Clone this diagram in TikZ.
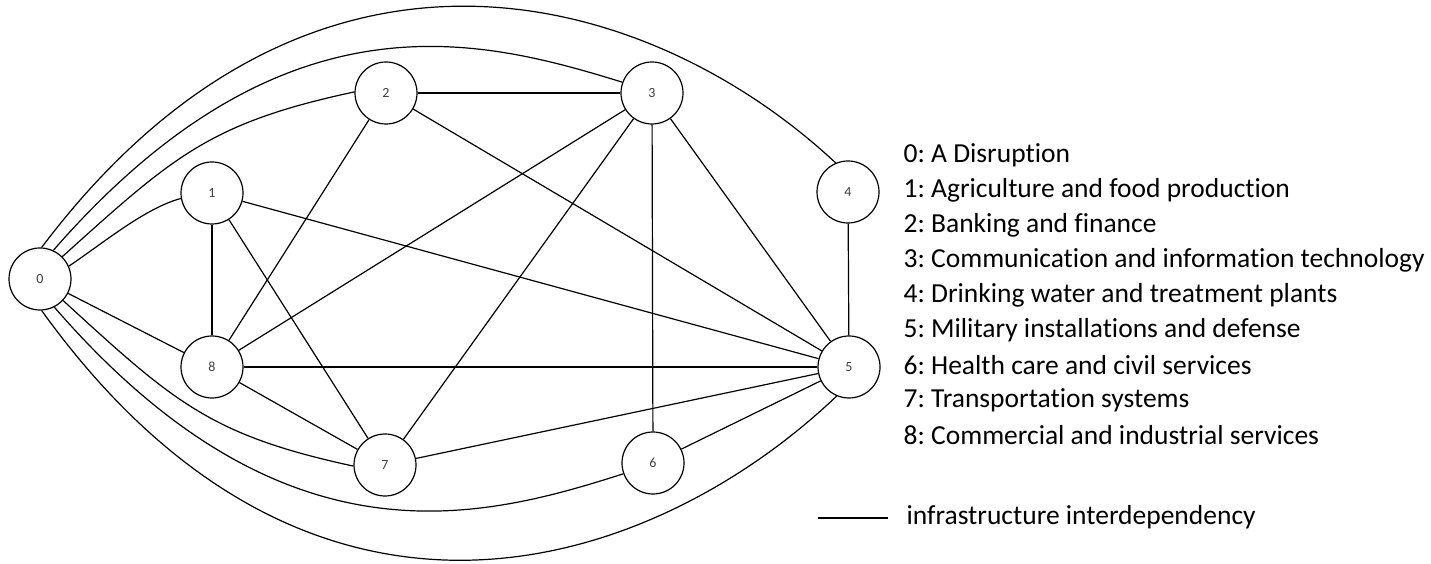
\documentclass[tikz,border=0pt]{standalone}
\usepackage{fontspec}
\setmainfont{Carlito}[Ligatures=NoCommon]
\frenchspacing

\begin{document}
\begin{tikzpicture}
        [x=1pt,y=1pt,line width=1.2pt,every node/.style={draw,shape=circle,fill=white,inner sep=0,minimum size=62pt,text=black!75,font=\fontsize{14}{16}\selectfont},
        key/.style={draw=none,fill=none,shape=rectangle,minimum size=0pt,inner sep=0,anchor=west,text=black,font=\fontsize{27.5}{32}\selectfont}]

        \useasboundingbox (0,0) rectangle (1431,564);

        \node (v0) at (40, 285) {0};
        \node (v1) at (212, 371) {1};
        \node (v2) at (386, 471) {2};
        \node (v3) at (652, 471) {3};
        \node (v4) at (848, 372) {4};
        \node (v5) at (849, 197) {5};
        \node (v6) at (653, 101) {6};
        \node (v7) at (385, 99) {7};
        \node (v8) at (212, 197) {8};

        % links from the disruption
        \draw (v0.24) .. controls (102, 320) and (145, 356) .. (v1.190);
        \draw (v0.45) .. controls (173, 407) and (209, 441) .. (v2.178);
        \draw (v0.65) .. controls (283, 577) and (479, 526) .. (v3.160);
        \draw (v0.87) .. controls (314, 678) and (655, 570) .. (v4.113);
        \draw (v0.-87) .. controls (314, -125) and (655, -5) .. (v5.-113);
        \draw (v0.-63) .. controls (283, -7) and (479, 44) .. (v6.200);
        \draw (v0.-43) .. controls (173, 163) and (209, 129) .. (v7.182);
        \draw (v0) -- (v8);

        \draw (v1) -- (v8);
        \draw (v1) -- (v7);
        \draw (v1) -- (v5);
        \draw (v2) -- (v3);
        \draw (v2) -- (v8);
        \draw (v2) -- (v5);
        \draw (v3) -- (v8);
        \draw (v3) -- (v7);
        \draw (v3) -- (v6);
        \draw (v3) -- (v5);
        \draw (v4) -- (v5);
        \draw (v8) -- (v5);
        \draw (v8) -- (v7);
        \draw (v7) -- (v5);
        \draw (v6) -- (v5);

        % legend
        \node[key] (k0) at (903, 409) {0: A Disruption};
        \node[key] (k1) at (903, 374) {1: Agriculture and food production};
        \node[key] (k2) at (903, 339) {2: Banking and finance};
        \node[key] (k3) at (903, 304) {3: Communication and information technology};
        \node[key] (k4) at (903, 269) {4: Drinking water and treatment plants};
        \node[key] (k5) at (903, 234) {5: Military installations and defense};
        \node[key] (k6) at (903, 199) {6: Health care and civil services};
        \node[key] (k7) at (903, 164) {7: Transportation systems};
        \node[key] (k8) at (903, 129) {8: Commercial and industrial services};

        \coordinate (e1) at (818, 46);
        \coordinate (e2) at (888, 46);
        \draw (e1) -- (e2);
        \node[key] (ke) at (906, 47) {infrastructure interdependency};

      \end{tikzpicture}
\end{document}
